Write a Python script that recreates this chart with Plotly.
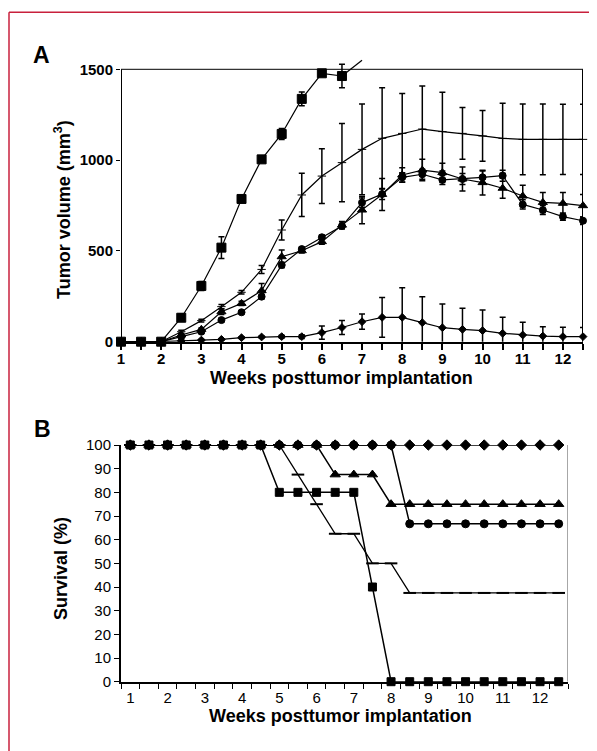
import plotly.graph_objects as go

W, H = 597, 751
OFF = 8  # page body margin offset of the rendered div

# ---------------- data ----------------
weeks = [1, 1.5, 2, 2.5, 3, 3.5, 4, 4.5, 5, 5.5, 6, 6.5, 7, 7.5, 8, 8.5, 9, 9.5,
         10, 10.5, 11, 11.5, 12, 12.5]
week_labels = [str(i) for i in range(1, 13)]

# Panel A: tumor volume (mm3)
vol_square = [0, 0, 0, 132, 307, 518, 786, 1004, 1144, 1337, 1478, 1463, 1550]
err_square = [0, 0, 0, 20, 25, 60, 12, 12, 30, 38, 15, 65, 0]
vol_star = [0, 0, 0, 55, 116, 193, 272, 398, 615, 808, 912, 986, 1059, 1120, 1147,
            1171, 1157, 1147, 1133, 1120, 1114, 1114, 1114, 1114]
err_star = [0, 0, 0, 8, 8, 12, 10, 22, 55, 119, 151, 216, 250, 279, 220, 237, 217,
            143, 140, 193, 195, 195, 193, 193]
vol_triangle = [0, 0, 0, 37, 68, 165, 211, 281, 468, 501, 551, 642, 725, 811, 918,
                945, 931, 896, 876, 845, 802, 767, 762, 749]
err_triangle = [0, 0, 0, 8, 8, 15, 12, 40, 37, 12, 15, 20, 75, 88, 40, 59, 51, 66,
                68, 55, 59, 55, 60, 62]
vol_circle = [0, 0, 0, 28, 55, 119, 162, 248, 422, 510, 575, 637, 766, 813, 905, 922,
              891, 896, 905, 914, 756, 725, 689, 666]
err_circle = [0, 0, 0, 5, 8, 10, 8, 12, 15, 12, 12, 15, 25, 30, 25, 28, 25, 30, 35,
              30, 25, 25, 20, 20]
vol_diamond = [0, 0, 0, 5, 9, 13, 22, 26, 28, 28, 50, 78, 110, 134, 134, 105, 77, 68,
               61, 46, 37, 31, 28, 28]
err_diamond = [0, 0, 0, 0, 3, 3, 5, 5, 8, 10, 37, 39, 42, 110, 163, 143, 130, 116,
               114, 88, 70, 51, 51, 50]

# Panel B: survival (%)
surv_square = [100] * 8 + [80] * 5 + [40] + [0] * 10
surv_circle = [100] * 15 + [66.7] * 9
surv_triangle = [100] * 11 + [87.5] * 3 + [75] * 10
surv_star = [100] * 9 + [87.5, 75, 62.5, 62.5, 50, 50] + [37.5] * 9
surv_diamond = [100] * 24

y_ticks_a = [0, 500, 1000, 1500]
y_ticks_b = list(range(0, 101, 10))

# ---------------- geometry helpers ----------------
def px_x(p):
    return (p - OFF) / W

def px_y(p):
    return 1 - (p - OFF) / H

FONT = "Liberation Sans, Arial, sans-serif"

fig = go.Figure()

# ---------------- Panel A traces ----------------
def add_a(x, y, err, symbol, size, lw=1.2, mode="lines+markers"):
    fig.add_trace(go.Scatter(
        x=x, y=y, mode=mode,
        line=dict(color="black", width=lw),
        marker=dict(symbol=symbol, size=size, color="black", opacity=1,
                    line=dict(color="black", width=1)),
        error_y=dict(type="data", array=err, visible=err is not None,
                     color="black", thickness=1.5, width=3),
        xaxis="x", yaxis="y", showlegend=False, cliponaxis=False,
    ))

add_a(weeks, vol_diamond, err_diamond, "diamond", 6)
add_a(weeks, vol_star, err_star, "line-ew", 6)
add_a(weeks, vol_triangle, err_triangle, "triangle-up", 8)
add_a(weeks, vol_circle, err_circle, "circle", 7)
n_sq = len(vol_square)
# last measured segment runs out of the frame (no marker shown there)
add_a(weeks[n_sq - 2:n_sq], vol_square[n_sq - 2:], None, "square", 9, mode="lines")
add_a(weeks[:n_sq - 1], vol_square[:n_sq - 1], err_square[:n_sq - 1], "square", 9)

# ---------------- Panel B traces ----------------
def add_b(y, symbol, size, lw=1.5, mlw=1):
    fig.add_trace(go.Scatter(
        x=weeks, y=y, mode="lines+markers",
        line=dict(color="black", width=lw),
        marker=dict(symbol=symbol, size=size, color="black",
                    line=dict(color="black", width=mlw)),
        xaxis="x2", yaxis="y2", showlegend=False, cliponaxis=False,
    ))

add_b(surv_diamond, "diamond", 8)
add_b(surv_star, "line-ew", 9, lw=1.3, mlw=2)
add_b(surv_triangle, "triangle-up", 9)
add_b(surv_circle, "circle", 8)
add_b(surv_square, "square", 8)

# ---------------- axes ----------------
a_left, a_right = px_x(121), px_x(583)
a_bot, a_top = px_y(341.7), px_y(58.4)
b_left, b_right = px_x(121), px_x(568)
b_bot, b_top = px_y(681.7), px_y(445)

tick_font_a = dict(family=FONT, size=15, color="black", weight="bold")
tick_font_b = dict(family=FONT, size=15, color="black")

fig.update_layout(
    template="none",
    width=W, height=H, autosize=False,
    margin=dict(l=0, r=0, t=0, b=0, pad=0),
    paper_bgcolor="white", plot_bgcolor="white",
    showlegend=False,
    xaxis=dict(domain=[a_left, a_right], range=[1, 12.5], anchor="y",
               automargin=False,
               showgrid=False, zeroline=False, showline=True, linecolor="black",
               linewidth=2, ticks="outside", ticklen=6, tickwidth=1.5,
               tickcolor="black", tickvals=list(range(1, 13)),
               ticktext=week_labels, tickfont=tick_font_a, ticklabelstandoff=-4,
               minor=dict(tickvals=[w for w in weeks if w != int(w)],
                          ticks="outside", ticklen=6, tickwidth=1.5,
                          tickcolor="black", showgrid=False)),
    yaxis=dict(domain=[a_bot, a_top], range=[0, 1560], anchor="x",
               automargin=False,
               showgrid=False, zeroline=False, showline=False,
               ticks="outside", ticklen=4, tickwidth=1, tickcolor="black",
               tickvals=y_ticks_a, ticktext=[str(v) for v in y_ticks_a],
               tickfont=tick_font_a),
    xaxis2=dict(domain=[b_left, b_right], range=[0.75, 12.75], anchor="y2",
                automargin=False,
                showgrid=False, zeroline=False, showline=True, linecolor="black",
                linewidth=2, ticks="", tickvals=list(range(1, 13)),
                ticktext=week_labels, tickfont=tick_font_b, ticklabelstandoff=1,
                minor=dict(tickvals=[0.75 + 0.5 * k for k in range(25)],
                           ticks="outside", ticklen=5, tickwidth=1,
                           tickcolor="black", showgrid=False)),
    yaxis2=dict(domain=[b_bot, b_top], range=[0, 100], anchor="x2",
                automargin=False,
                showgrid=False, zeroline=False, showline=True, linecolor="black",
                linewidth=2, ticks="outside", ticklen=5, tickwidth=1,
                tickcolor="black", tickvals=y_ticks_b,
                ticktext=[str(v) for v in y_ticks_b], tickfont=tick_font_b),
)

# ---------------- frame shapes ----------------
shapes = [
    dict(type="line", xref="x", yref="y", x0=1, x1=1, y0=0, y1=1500,
         line=dict(color="black", width=2)),
    dict(type="line", xref="x", yref="y", x0=1, x1=12.5, y0=1500, y1=1500,
         line=dict(color="black", width=1)),
    dict(type="line", xref="x", yref="y", x0=12.5, x1=12.5, y0=0, y1=1500,
         line=dict(color="black", width=2)),
    dict(type="line", xref="x2", yref="y2", x0=12.75, x1=12.75, y0=0, y1=100,
         line=dict(color="#8a8a8a", width=1.5)),
    dict(type="line", xref="paper", yref="paper", x0=px_x(9), x1=1,
         y0=px_y(12.3), y1=px_y(12.3), line=dict(color="#c8203c", width=1.5)),
    dict(type="line", xref="paper", yref="paper", x0=px_x(9), x1=px_x(9),
         y0=px_y(12.3), y1=0, line=dict(color="#c8203c", width=1.5)),
]
fig.update_layout(shapes=shapes)

# ---------------- text ----------------
title_font = dict(family=FONT, size=18, color="black", weight="bold")
ann = [
    dict(text="A", x=px_x(41), y=px_y(55), font=dict(family=FONT, size=23,
         color="black", weight="bold")),
    dict(text="B", x=px_x(42.5), y=px_y(428.5), font=dict(family=FONT, size=23,
         color="black", weight="bold")),
    dict(text="Weeks posttumor implantation", x=px_x(341), y=px_y(378),
         font=title_font),
    dict(text="Weeks posttumor implantation", x=px_x(340), y=px_y(716),
         font=title_font),
    dict(text="Tumor volume (mm<sup>3</sup>)", x=px_x(62), y=px_y(210),
         textangle=-90, font=title_font),
    dict(text="Survival (%)", x=px_x(61), y=px_y(569), textangle=-90,
         font=title_font),
]
for a in ann:
    a.update(xref="paper", yref="paper", showarrow=False,
             xanchor="center", yanchor="middle")
fig.update_layout(annotations=ann)

fig.write_html("out.html")
